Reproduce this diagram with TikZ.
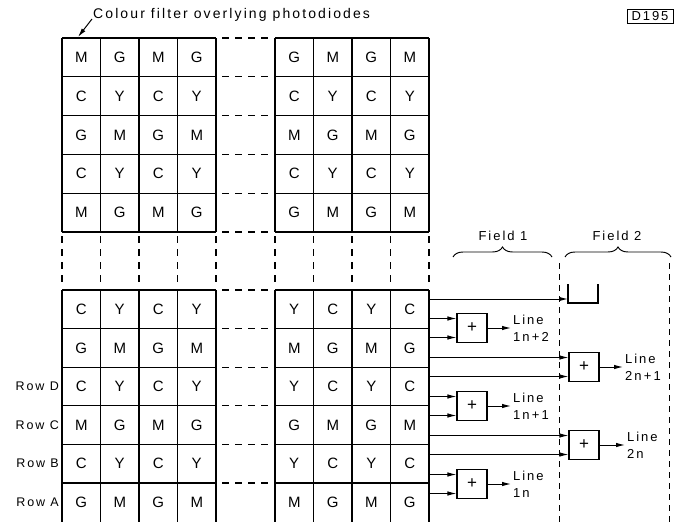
\documentclass[tikz,border=0pt]{standalone}
\usepackage{fontspec}
\setmainfont{Liberation Sans}[LetterSpace=15]
\newfontfamily\cellfont{Liberation Sans}
\usetikzlibrary{arrows.meta,decorations.pathreplacing}

\begin{document}
\begin{tikzpicture}[
  x=1pt, y=-1pt,
  every node/.style={font=\fontsize{13}{15}\selectfont},
  gridline/.style={line width=1.05pt},
  gapline/.style={line width=1.05pt, dash pattern=on 7pt off 6pt},
  fieldline/.style={line width=0.95pt, dash pattern=on 6pt off 5pt},
  cell/.style={inner sep=0pt, font=\cellfont\fontsize{15}{16}\selectfont},
  rowlbl/.style={anchor=east, inner sep=0pt, font=\fontsize{12.5}{14}\selectfont},
  adder/.style={draw, line width=1.05pt, minimum width=30pt, minimum height=29pt,
    inner sep=0pt, font=\cellfont\fontsize{17}{17}\selectfont},
  feed/.style={line width=1pt, -{Latex[length=9pt,width=4.5pt]}},
  linelbl/.style={anchor=west, align=left, inner sep=2pt, font=\fontsize{13}{17}\selectfont},
  fieldbrace/.style={line width=0.95pt, decorate, decoration={brace, amplitude=10pt}}
]
  \useasboundingbox (0,0) rectangle (681,522);

  % Filter grid
  \foreach \x in {62,100.5,139,177.5,216,275,313.5,352,390.5,429} {
    \draw[gridline] (\x,38) -- (\x,232);
    \draw[gapline] (\x,236) -- (\x,288);
    \draw[gridline] (\x,290) -- (\x,522);
  }
  \foreach \y in {38,76.8,115.6,154.4,193.2,232,290,328.6,367.2,405.8,444.4,483} {
    \draw[gridline] (62,\y) -- (216,\y);
    \draw[gapline] (222,\y) -- (270,\y);
    \draw[gridline] (275,\y) -- (429,\y);
  }

  % Colours of the upper rows
  \foreach \row [count=\r] in {{M,G,M,G,G,M,G,M},{C,Y,C,Y,C,Y,C,Y},{G,M,G,M,M,G,M,G},
      {C,Y,C,Y,C,Y,C,Y},{M,G,M,G,G,M,G,M}} {
    \foreach \c [count=\k] in \row {
      \pgfmathsetmacro\cx{\k<5 ? 62+38.5*(\k-0.5) : 275+38.5*(\k-4.5)}
      \node[cell] (t-\r-\k) at (\cx, 38+38.8*\r-19.4) {\c};
    }
  }
  % Colours of the lower rows
  \foreach \row [count=\r] in {{C,Y,C,Y,Y,C,Y,C},{G,M,G,M,M,G,M,G},{C,Y,C,Y,Y,C,Y,C},
      {M,G,M,G,G,M,G,M},{C,Y,C,Y,Y,C,Y,C},{G,M,G,M,M,G,M,G}} {
    \foreach \c [count=\k] in \row {
      \pgfmathsetmacro\cx{\k<5 ? 62+38.5*(\k-0.5) : 275+38.5*(\k-4.5)}
      \node[cell] (b-\r-\k) at (\cx, 290+38.6*\r-19.3) {\c};
    }
  }
  \node[rowlbl] (rowD) at (59,386.5) {Row D};
  \node[rowlbl] (rowC) at (59,425.1) {Row C};
  \node[rowlbl] (rowB) at (59,463.7) {Row B};
  \node[rowlbl] (rowA) at (59,502.3) {Row A};

  % Title and figure code
  \node[anchor=base west, inner sep=1pt, font=\fontsize{14}{16}\selectfont] (title)
    at (92,19) {Colour filter overlying photodiodes};
  \coordinate (corner) at (78,37);
  \draw[feed] (title.base west) -- (corner);
  \node[draw, line width=0.9pt, inner sep=1pt, minimum width=46pt, minimum height=14pt,
    font=\fontsize{13}{14}\selectfont] (code) at (650,16) {D195};

  % Fields
  \draw[fieldbrace] (453,257) -- (552,257);
  \draw[fieldbrace] (565,257) -- (671,257);
  \node (field1) at (503,236) {Field 1};
  \node (field2) at (617,236) {Field 2};
  \draw[fieldline] (559,263) -- (559,522);
  \draw[fieldline] (669,263) -- (669,522);

  % Adders
  \coordinate (edge) at (429,0);
  \node[adder] (a1n2) at (472,328) {+};
  \node[adder] (a1n1) at (472,406) {+};
  \node[adder] (a1n) at (472,484) {+};
  \node[adder] (a2n1) at (584,367) {+};
  \node[adder] (a2n) at (584,445) {+};
  \draw[gridline] (568,284) -- (568,303) -- (598,303) -- (598,284);
  \coordinate (part) at (568,299);
  \draw[feed] (edge |- part) -- (part);

  \foreach \a in {a1n2,a1n1,a1n,a2n1,a2n} {
    \foreach \d [count=\i] in {-9.5,9.5} {
      \path (\a.west) ++(0,\d) coordinate (\a-in\i);
      \draw[feed] (edge |- \a-in\i) -- (\a-in\i);
    }
  }

  \node[linelbl] (l1n2) at (511,328) {Line\\1n\,+\,2};
  \node[linelbl] (l1n1) at (511,406) {Line\\1n\,+\,1};
  \node[linelbl] (l1n) at (511,484) {Line\\1n};
  \node[linelbl] (l2n1) at (623,367) {Line\\2n\,+\,1};
  \node[linelbl] (l2n) at (625,445) {Line\\2n};
  \draw[feed] (a1n2) -- (l1n2);
  \draw[feed] (a1n1) -- (l1n1);
  \draw[feed] (a1n) -- (l1n);
  \draw[feed] (a2n1) -- (l2n1);
  \draw[feed] (a2n) -- (l2n);
\end{tikzpicture}
\end{document}
